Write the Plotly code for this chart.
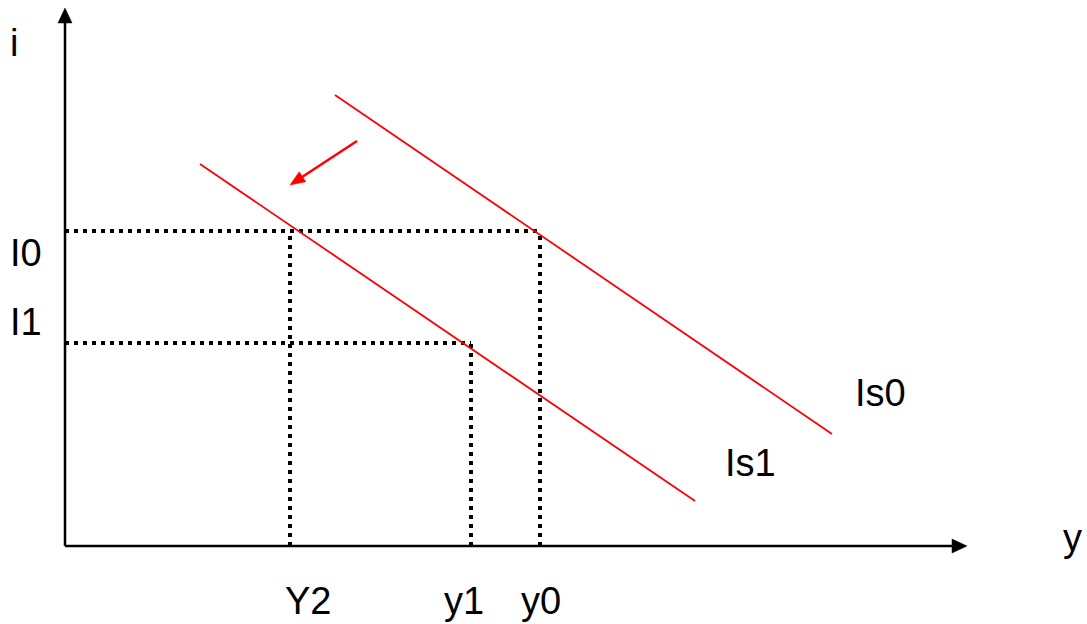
import math
import plotly.graph_objects as go

# IS-curve diagram: output y on the horizontal axis, interest rate i on the vertical axis.
# Coordinates are in plot units with the origin at the axis corner.

# IS curves (two end points each)
is0_y = [270, 767]
is0_i = [451, 112]
is1_y = [135, 630]
is1_i = [382, 45]

# Equilibrium levels
rate_levels = {"I0": 315, "I1": 203}
output_levels = {"Y2": 225, "y1": 406, "y0": 475}

# Dotted guide segments: horizontal (level, right end) and vertical (position, top)
h_guides = [(rate_levels["I0"], output_levels["y0"]),
            (rate_levels["I1"], output_levels["y1"])]
v_guides = [(output_levels["Y2"], rate_levels["I0"]),
            (output_levels["y1"], rate_levels["I1"]),
            (output_levels["y0"], rate_levels["I0"])]

# Axis extents (arrow tips)
x_axis_end = 902
y_axis_end = 538

# Shift arrow (start, tip)
shift_start = (292, 405)
shift_tip = (225, 361)

X_RANGE = [-65, 1022]
Y_RANGE = [-78, 546]

fig = go.Figure()


def arrow_head(tip, start, length, width):
    """Triangle vertices for an arrow head at `tip`, pointing away from `start`."""
    dx, dy = tip[0] - start[0], tip[1] - start[1]
    n = math.hypot(dx, dy)
    ux, uy = dx / n, dy / n
    px, py = -uy, ux
    bx, by = tip[0] - ux * length, tip[1] - uy * length
    xs = [tip[0], bx + px * width / 2, bx - px * width / 2, tip[0]]
    ys = [tip[1], by + py * width / 2, by - py * width / 2, tip[1]]
    return xs, ys


def add_arrow(start, tip, color, lw, hl, hw):
    # shaft stops at the head base so the tip stays sharp
    dx, dy = tip[0] - start[0], tip[1] - start[1]
    n = math.hypot(dx, dy)
    end = (tip[0] - dx / n * (hl - 1), tip[1] - dy / n * (hl - 1))
    fig.add_trace(go.Scatter(x=[start[0], end[0]], y=[start[1], end[1]], mode="lines",
                             line=dict(color=color, width=lw), hoverinfo="skip"))
    hx, hy = arrow_head(tip, start, hl, hw)
    fig.add_trace(go.Scatter(x=hx, y=hy, mode="lines", fill="toself", fillcolor=color,
                             line=dict(color=color, width=0.5), hoverinfo="skip"))


# Axes with arrow heads
add_arrow((0, 0), (0, y_axis_end), "black", 2.5, 15, 14)
add_arrow((0, 0), (x_axis_end, 0), "black", 2.5, 15, 14)

# Dotted guides
dot = dict(color="black", width=4, dash="4px,5px")
for level, right in h_guides:
    fig.add_trace(go.Scatter(x=[0, right], y=[level, level], mode="lines", line=dot,
                             hoverinfo="skip"))
for pos, top in v_guides:
    fig.add_trace(go.Scatter(x=[pos, pos], y=[0, top], mode="lines", line=dot,
                             hoverinfo="skip"))

# IS curves
fig.add_trace(go.Scatter(x=is0_y, y=is0_i, mode="lines", line=dict(color="#ff0000", width=1.8),
                         hoverinfo="skip"))
fig.add_trace(go.Scatter(x=is1_y, y=is1_i, mode="lines", line=dict(color="#ff0000", width=1.8),
                         hoverinfo="skip"))

# Leftward shift arrow
add_arrow(shift_start, shift_tip, "#ff0000", 2.5, 15, 12)

font = dict(family="Liberation Sans, Arial, sans-serif", size=38, color="black")


def label(text, x, y):
    fig.add_annotation(x=x, y=y, text=text, showarrow=False, font=font,
                       xanchor="center", yanchor="middle")


label("i", -51, 503)
label("y", 1007, 8)
label("I0", -39, rate_levels["I0"] - 22)
label("I1", -39, rate_levels["I1"] + 21)
for name, pos in output_levels.items():
    label(name, pos + {"Y2": 18, "y1": -7, "y0": 1}[name], -55)
label("Is0", 815, 153)
label("Is1", 685, 83)

fig.update_layout(
    width=1087, height=624,
    margin=dict(l=0, r=0, t=0, b=0),
    paper_bgcolor="white", plot_bgcolor="white",
    showlegend=False,
    xaxis=dict(range=X_RANGE, visible=False, fixedrange=True),
    yaxis=dict(range=Y_RANGE, visible=False, fixedrange=True),
)

fig.write_html("out.html")
